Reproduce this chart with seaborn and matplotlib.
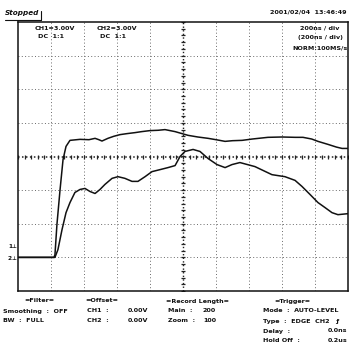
import numpy as np
import pandas as pd
import matplotlib
matplotlib.use("Agg")
import matplotlib.pyplot as plt
from matplotlib.lines import Line2D
import seaborn as sns

# Sweep: 200 ns/div over 10 divisions; vertical scale in screen divisions
NS_PER_DIV = 200
ch1_time_ns = [0, 218, 224, 236, 255, 273, 291, 315, 376, 430, 467, 490, 509, 545,
               580, 618, 660, 709, 750, 800, 850, 891, 952, 1030, 1090, 1152, 1200,
               1255, 1300, 1358, 1420, 1515, 1600, 1680, 1727, 1780, 1818, 1879, 1930,
               1964, 2000]
ch1_level = [-3.0, -3.0, -2.92, -2.02, -0.98, -0.09, 0.30, 0.48, 0.51, 0.50, 0.54, 0.50,
             0.46, 0.54, 0.60, 0.65, 0.68, 0.71, 0.74, 0.77, 0.78, 0.80, 0.74, 0.63,
             0.58, 0.54, 0.50, 0.45, 0.47, 0.48, 0.52, 0.57, 0.58, 0.57, 0.57, 0.52,
             0.45, 0.36, 0.28, 0.24, 0.24]
ch2_time_ns = [0, 224, 242, 267, 291, 315, 345, 376, 406, 436, 467, 497, 527, 570, 606,
               648, 691, 727, 770, 812, 861, 909, 952, 982, 1012, 1061, 1103, 1152,
               1206, 1255, 1297, 1345, 1436, 1539, 1618, 1679, 1721, 1770, 1818, 1861,
               1903, 1939, 2000]
ch2_level = [-3.0, -3.0, -2.77, -2.17, -1.67, -1.37, -1.07, -0.98, -0.95, -1.04, -1.10,
             -0.98, -0.83, -0.65, -0.60, -0.65, -0.74, -0.74, -0.60, -0.45, -0.39,
             -0.33, -0.27, 0.0, 0.15, 0.21, 0.15, -0.06, -0.24, -0.33, -0.24, -0.18,
             -0.30, -0.54, -0.60, -0.71, -0.89, -1.13, -1.37, -1.52, -1.67, -1.73, -1.70]

header_left = ["CH1=3.00V", "DC  1:1"]
header_mid = ["CH2=3.00V", "DC  1:1"]
header_right = ["200ns / div", "(200ns / div)", "NORM:100MS/s"]

sns.set_theme(style="white")
plt.rcParams['font.family'] = ['DejaVu Sans']

W, H = 350, 356
fig = plt.figure(figsize=(W / 100, H / 100), dpi=100)
fig.patch.set_facecolor("white")
L, R, T, B = 18, 348, 22, 291
ax = fig.add_axes([L / W, 1 - B / H, (R - L) / W, (B - T) / H])
ax.set_facecolor("white")

traces = pd.concat([
    pd.DataFrame({"time": ch1_time_ns, "level": ch1_level, "channel": "CH1"}),
    pd.DataFrame({"time": ch2_time_ns, "level": ch2_level, "channel": "CH2"}),
])

# graticule
dot = (0, (1, 2.4))
grid_col = "#6a6a6a"
for i in range(1, 10):
    if i != 5:
        ax.axvline(i * NS_PER_DIV, color=grid_col, lw=0.7, ls=dot, zorder=1)
for j in range(-3, 4):
    if j != 0:
        ax.axhline(j, color=grid_col, lw=0.7, ls=dot, zorder=1)
ax.axhline(0, color="#222222", lw=1.1, ls=(0, (1, 1.6)), zorder=1)
ax.axvline(5 * NS_PER_DIV, color="#222222", lw=1.0, ls=(0, (1, 1.6)), zorder=1)
yt = np.arange(-4, 4.01, 0.2)
ax.plot(np.full_like(yt, 5 * NS_PER_DIV), yt, ls="none", marker="_", ms=3.2,
        mew=0.9, color="#222222", zorder=1)
xt = np.arange(0, 2001, NS_PER_DIV / 5)
ax.plot(xt, np.zeros_like(xt), ls="none", marker="|", ms=3.2, mew=0.9,
        color="#222222", zorder=1)

sns.lineplot(data=traces, x="time", y="level", hue="channel", units="channel",
             estimator=None, sort=False, palette=["#111111", "#111111"],
             lw=1.1, legend=False, ax=ax, zorder=3)

ax.set_xlim(0, 10 * NS_PER_DIV)
ax.set_ylim(-4, 4)
ax.set_xticks([])
ax.set_yticks([])
ax.set_xlabel("")
ax.set_ylabel("")
for s in ax.spines.values():
    s.set_visible(True)
    s.set_color("#111111")
    s.set_linewidth(1.1)

FS = 4.6


def ftext(x, y, s, ha="left", **kw):
    kw.setdefault("fontsize", FS)
    kw.setdefault("fontweight", "bold")
    fig.text(x / W, 1 - y / H, s, ha=ha, va="center", color="#111111", **kw)


# title row
ftext(5, 13, "Stopped", fontstyle="italic", fontsize=5.2)
fig.add_artist(Line2D([5 / W, 41 / W], [1 - 19.5 / H, 1 - 19.5 / H], color="#111111", lw=0.8))
fig.add_artist(Line2D([41 / W, 41 / W], [1 - 19.5 / H, 1 - 11 / H], color="#111111", lw=0.8))
ftext(346, 12, "2001/02/04  13:46:49", ha="right")

# channel settings inside the screen
ftext(55, 28, header_left[0], ha="center")
ftext(51, 36, header_left[1], ha="center")
ftext(117, 28, header_mid[0], ha="center")
ftext(113, 36, header_mid[1], ha="center")
for k, s in enumerate(header_right):
    ftext(320, 28 + 10 * k, s, ha="center")

# ground markers
ftext(8, 247, "1", fontsize=4.2)
ftext(8, 259, "2", fontsize=4.2)
ftext(12, 247, "\u22a5", fontsize=3.8)
ftext(12, 259, "\u22a5", fontsize=3.8)

# settings panel
r1, r2, r3, r4, r5 = 301, 311, 321, 331, 341
ftext(39, r1, "=Filter=", ha="center")
ftext(3, r2, "Smoothing  :  OFF")
ftext(3, r3, "BW  :  FULL")
ftext(102, r1, "=Offset=", ha="center")
ftext(87, r2, "CH1  :")
ftext(87, r3, "CH2  :")
ftext(148, r2, "0.00V", ha="right")
ftext(148, r3, "0.00V", ha="right")
ftext(198, r1, "=Record Length=", ha="center")
ftext(168, r2, "Main  :")
ftext(168, r3, "Zoom  :")
ftext(216, r2, "200", ha="right")
ftext(216, r3, "100", ha="right")
ftext(292, r1, "=Trigger=", ha="center")
ftext(263, r2, "Mode  :  AUTO-LEVEL")
ftext(263, r3, "Type  :  EDGE  CH2   \u0192")
ftext(263, r4, "Delay  :")
ftext(263, r5, "Hold Off  :")
ftext(347, r4, "0.0ns", ha="right")
ftext(347, r5, "0.2us", ha="right")

fig.savefig("out.png", dpi=100, facecolor="white")
